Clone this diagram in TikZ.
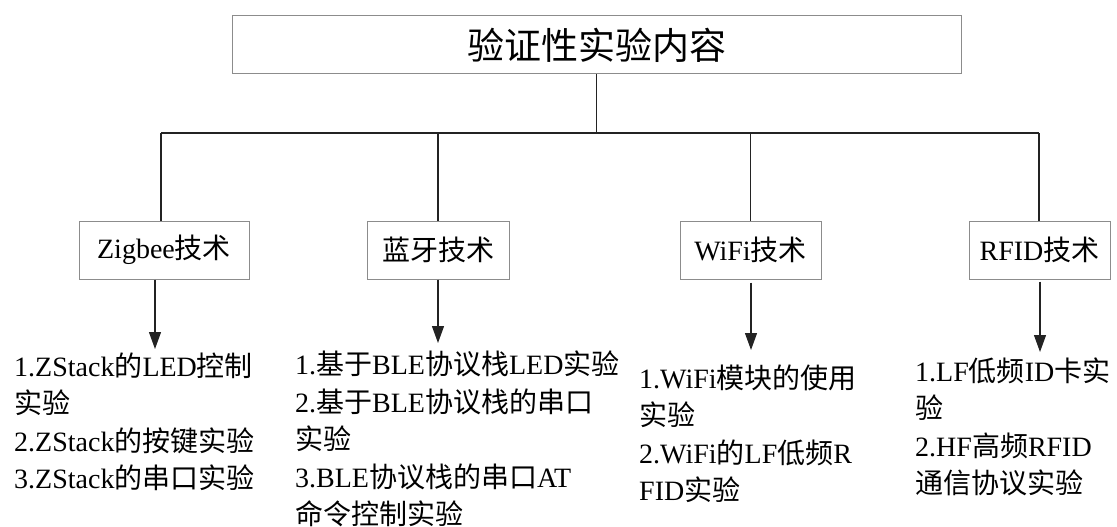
\documentclass[tikz,border=0pt]{standalone}
\usepackage{fontspec}
\setmainfont{Liberation Serif}
\newfontfamily\cjk{Noto Sans CJK SC}
\newcommand\zh[1]{{\cjk #1}}
\usetikzlibrary{arrows.meta}
\definecolor{Ink}{RGB}{35,35,35}
\definecolor{Frame}{RGB}{140,140,140}

\begin{document}
\begin{tikzpicture}[x=1pt,y=-1pt,
 box/.style={draw=Frame,line width=1pt,inner sep=0pt,minimum height=58pt,font=\fontsize{28}{34}\selectfont},
 ln/.style={Ink,line width=1.2pt},
 bar/.style={Ink,line width=2pt},
 arr/.style={-{Triangle[length=17pt,width=12pt]},Ink,line width=1.2pt},
 lst/.style={anchor=north west,align=left,inner sep=0pt,font=\fontsize{28}{37.5}\selectfont}]
\useasboundingbox (0,0) rectangle (1117,527);
\node[box,minimum width=729pt,font=\fontsize{37}{42}\selectfont] (top) at (596.5,45) {\zh{验证性实验内容}};
\node[box,minimum width=170pt] (zig) at (164,250) {Zigbee\zh{技术}};
\node[box,minimum width=142pt] (ble) at (438,250) {\zh{蓝牙技术}};
\node[box,minimum width=141pt] (wifi) at (750.5,250) {WiFi\zh{技术}};
\node[box,minimum width=141pt] (rfid) at (1039.5,250) {RFID\zh{技术}};
% tree lines
\coordinate (l) at (161,133);
\coordinate (r) at (1039,133);
\draw[ln] (top.south) -- (top.south |- l);
\draw[bar] (l) -- (r);
\draw[ln] (l) -- (zig.north -| l);
\draw[ln] (ble.north |- l) -- (ble.north);
\draw[ln] (wifi.north |- l) -- (wifi.north);
\draw[ln] (r) -- (rfid.north -| r);
% arrows to the lists
\coordinate (t1) at (155,349);
\coordinate (t2) at (438,343);
\coordinate (t3) at (751,350);
\coordinate (t4) at (1040,352);
\draw[arr] (zig.south -| t1) -- (t1);
\draw[arr] (ble.south -| t2) -- (t2);
\draw[arr] ([yshift=-3pt]wifi.south -| t3) -- (t3);
\draw[arr] ([yshift=-2pt]rfid.south -| t4) -- (t4);
\node[lst] (zl) at (14,350) {\strut 1.ZStack\zh{的}LED\zh{控制}\\ \zh{实验}\\ 2.ZStack\zh{的按键实验}\\ 3.ZStack\zh{的串口实验}};
\node[lst] (bl) at (295,348.5) {\strut 1.\zh{基于}BLE\zh{协议栈}LED\zh{实验}\\ 2.\zh{基于}BLE\zh{协议栈的串口}\\ \zh{实验}\\ 3.BLE\zh{协议栈的串口}AT\\ \zh{命令控制实验}};
\node[lst] (wl) at (639,362) {\strut 1.WiFi\zh{模块的使用}\\ \zh{实验}\\ 2.WiFi\zh{的}LF\zh{低频}R\\ FID\zh{实验}};
\node[lst] (rl) at (915,355) {\strut 1.LF\zh{低频}ID\zh{卡实}\\ \zh{验}\\ 2.HF\zh{高频}RFID\\ \zh{通信协议实验}};
\end{tikzpicture}
\end{document}
